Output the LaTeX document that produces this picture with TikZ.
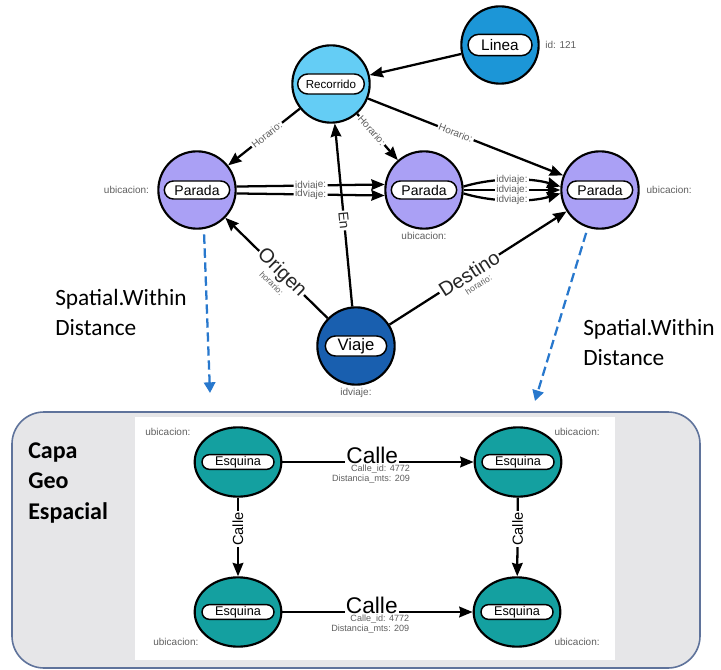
\documentclass[tikz,border=0pt]{standalone}
\usepackage{fontspec}
\setmainfont{Liberation Sans}
\newfontfamily\calibri{Carlito}
\usepackage{xcolor}
\usetikzlibrary{positioning,arrows.meta,shapes.geometric,shapes.misc}

\definecolor{lineablue}{RGB}{28,150,215}
\definecolor{recblue}{RGB}{100,205,245}
\definecolor{paradalila}{RGB}{170,160,245}
\definecolor{viajeblue}{RGB}{25,95,175}
\definecolor{esqteal}{RGB}{20,160,160}
\definecolor{attrgray}{RGB}{95,95,95}
\definecolor{spatialblue}{RGB}{40,120,205}
\definecolor{panelgray}{RGB}{230,230,232}
\definecolor{panelrim}{RGB}{95,115,155}

\begin{document}
\begin{tikzpicture}[
    x=0.75pt, y=-0.75pt,
    ent/.style={circle, draw=black, line width=1.6pt, minimum size=58pt,
                inner sep=0pt},
    esquina/.style={ellipse, draw=black, line width=1.6pt, minimum width=65pt,
                    minimum height=52pt, inner sep=0pt, fill=esqteal},
    pill/.style={rounded rectangle, draw=black, fill=white, line width=1.1pt,
                 inner sep=0.5pt},
    attr/.style={font=\fontsize{7.5}{9}\selectfont, text=attrgray, inner sep=1pt},
    rel/.style={-{Stealth[length=10pt,width=8pt,inset=1pt]}, line width=1.7pt},
    rellbl/.style={font=\fontsize{7.5}{9}\selectfont, text=attrgray, fill=white,
                   inner sep=1pt, sloped},
    hlbl/.style={font=\fontsize{6.5}{8}\selectfont, text=attrgray, inner sep=0.5pt,
                 sloped},
    biglbl/.style={font=\fontsize{15}{17}\selectfont, text=black!85, fill=white,
                   inner sep=1pt, sloped},
    callelbl/.style={font=\fontsize{17}{18}\selectfont, fill=white, inner sep=1pt,
                     yshift=5pt},
    vlbl/.style={font=\fontsize{11}{12}\selectfont, fill=white, inner sep=1pt,
                 rotate=90},
    spatial/.style={draw=spatialblue, line width=1.7pt, dash pattern=on 7pt off 3.5pt,
                    -{Triangle[length=8pt,width=8.5pt]}, shorten <=4pt},
    note/.style={font=\calibri\fontsize{17.5}{22.5}\selectfont, align=left,
                 inner sep=0pt},
  ]
  \useasboundingbox (0,0) rectangle (721,670);

  % Panel: geo-spatial layer
  \draw[fill=panelgray, draw=panelrim, line width=1.2pt, rounded corners=24pt]
    (12,412) rectangle (700,668);
  \fill[white] (135,417) rectangle (615,660);

  % Row 1: Linea and Recorrido
  \node[ent, fill=lineablue, label={[pill, minimum width=49pt, minimum height=16pt,
        font=\fontsize{11.5}{12}\selectfont]center:Linea}] (linea) at (500,45) {};
  \node[ent, fill=recblue, label={[pill, minimum width=51pt, minimum height=15pt,
        font=\fontsize{8.7}{10}\selectfont]center:Recorrido}] (recorrido) at (331,84) {};

  % Row 2: Paradas
  \node[ent, fill=paradalila, label={[pill, minimum width=50pt, minimum height=13.5pt,
        font=\fontsize{10.5}{12}\selectfont]center:Parada}] (paradaA) at (197,190) {};
  \node[ent, fill=paradalila, label={[pill, minimum width=50pt, minimum height=13.5pt,
        font=\fontsize{10.5}{12}\selectfont]center:Parada}] (paradaB) at (424,190) {};
  \node[ent, fill=paradalila, label={[pill, minimum width=50pt, minimum height=13.5pt,
        font=\fontsize{10.5}{12}\selectfont]center:Parada}] (paradaC) at (600,190) {};

  % Row 3: Viaje
  \node[ent, fill=viajeblue, label={[pill, minimum width=47pt, minimum height=15pt,
        font=\fontsize{12.5}{14}\selectfont]center:Viaje}] (viaje) at (356,346) {};

  % Attributes
  \node[attr, right=3pt of linea] (lineaid) {id: 121};
  \node[attr, left=5pt of paradaA] (ubiA) {ubicacion:};
  \node[attr, below=1pt of paradaB] (ubiB) {ubicacion:};
  \node[attr, right=4pt of paradaC] (ubiC) {ubicacion:};
  \node[attr, below=1pt of viaje] (viajeid) {idviaje:};

  % Relations
  \draw[rel] (linea) -- (recorrido);
  \draw[rel] (recorrido) -- node[rellbl, pos=0.46] (horA) {Horario:} (paradaA);
  \draw[rel] (recorrido) -- node[rellbl, pos=0.36] (horB) {Horario:} (paradaB);
  \draw[rel] (recorrido) -- node[rellbl, pos=0.45] (horC) {Horario:} (paradaC);

  \draw[rel] (paradaA.5) -- node[rellbl] (idA1) {idviaje:} (paradaB.172);
  \draw[rel] (paradaA.-5) -- node[rellbl] (idA2) {idviaje:} (paradaB.-172);
  \draw[rel] (paradaB.5) .. controls +(30,-9) and +(-30,-9) ..
    node[rellbl] (idB1) {idviaje:} (paradaC.175);
  \draw[rel] (paradaB.0) -- node[rellbl] (idB2) {idviaje:} (paradaC.180);
  \draw[rel] (paradaB.-5) .. controls +(30,9) and +(-30,9) ..
    node[rellbl] (idB3) {idviaje:} (paradaC.-175);

  \draw[rel] (viaje) -- node[biglbl, pos=0.47, font=\fontsize{10.5}{12}\selectfont]
    (en) {En} (recorrido);
  \draw[rel] (viaje) -- node[biglbl, pos=0.45] (origen) {Origen}
    node[hlbl, pos=0.45, below=7pt] (origenhor) {horario:} (paradaA);
  \draw[rel] (viaje) -- node[biglbl, pos=0.45] (destino) {Destino}
    node[hlbl, pos=0.46, below=7pt] (destinohor) {horario:} (paradaC);

  % Spatial.Within Distance links
  \coordinate (dropA) at (210,393);
  \coordinate (dropC) at (535,401);
  \draw[spatial] (paradaA.-80) -- (dropA);
  \draw[spatial] (paradaC.-108) -- (dropC);
  \node[note, anchor=west] (spatialA) at (55,312) {Spatial.Within\\Distance};
  \node[note, anchor=west] (spatialC) at (583,342) {Spatial.Within\\Distance};

  % Geo layer: Esquinas
  \node[note, font=\calibri\bfseries\fontsize{18}{23}\selectfont, anchor=west]
    (capa) at (28,483) {Capa\\Geo\\Espacial};
  \node[esquina, label={[pill, minimum width=55pt, minimum height=11pt,
        font=\fontsize{9.5}{10}\selectfont]center:Esquina}] (esqTL) at (238,462) {};
  \node[esquina, label={[pill, minimum width=55pt, minimum height=11pt,
        font=\fontsize{9.5}{10}\selectfont]center:Esquina}] (esqTR) at (518,462) {};
  \node[esquina, label={[pill, minimum width=55pt, minimum height=11pt,
        font=\fontsize{9.5}{10}\selectfont]center:Esquina}] (esqBL) at (238,612) {};
  \node[esquina, label={[pill, minimum width=55pt, minimum height=11pt,
        font=\fontsize{9.5}{10}\selectfont]center:Esquina}] (esqBR) at (517,612) {};

  \node[attr, anchor=east] (ubiTL) at (192,432) {ubicacion:};
  \node[attr, anchor=west] (ubiTR) at (553,432) {ubicacion:};
  \node[attr, anchor=east] (ubiBL) at (200,642) {ubicacion:};
  \node[attr, anchor=west] (ubiBR) at (553,642) {ubicacion:};

  % Calles
  \draw[rel] (esqTL) -- node[callelbl, pos=0.47] (calleT) {Calle}
    node[attr, pos=0.68, anchor=north east, align=right,
         font=\fontsize{6.8}{7.5}\selectfont] (calleTattr)
    {Calle\_id: 4772\\Distancia\_mts: 209} (esqTR);
  \draw[rel] (esqBL) -- node[callelbl, pos=0.47] (calleB) {Calle}
    node[attr, pos=0.68, anchor=north east, align=right,
         font=\fontsize{6.8}{7.5}\selectfont] (calleBattr)
    {Calle\_id: 4772\\Distancia\_mts: 209} (esqBR);
  \draw[rel] (esqTL) -- node[vlbl, pos=0.4] (calleL) {Calle} (esqBL);
  \draw[rel] (esqTR) -- node[vlbl, pos=0.4] (calleR) {Calle} (esqBR);

\end{tikzpicture}
\end{document}
